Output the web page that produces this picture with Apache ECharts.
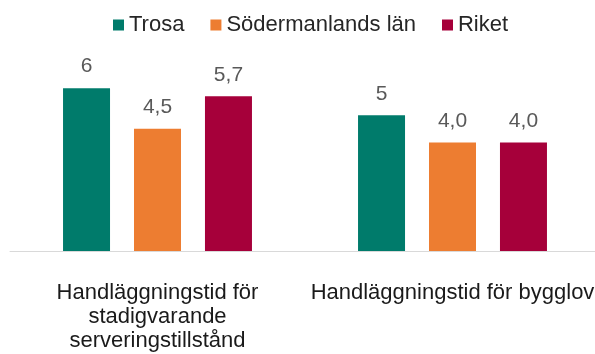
<!DOCTYPE html>
<html>
<head>
<meta charset="utf-8">
<script src="https://cdn.jsdelivr.net/npm/echarts@6/dist/echarts.min.js"></script>
<style>
  html, body { margin: 0; padding: 0; background: #ffffff; overflow: hidden; }
  #chart { width: 605px; height: 354px; }
</style>
</head>
<body>
<div id="chart"></div>
<script>
// Handläggningstid (veckor) per ärendetyp
const categories = [
  'Handläggningstid för\nstadigvarande\nserveringstillstånd',
  'Handläggningstid för bygglov'
];
const seriesNames = ['Trosa', 'Södermanlands län', 'Riket'];
const trosa = [6, 5];
const sodermanland = [4.5, 4.0];
const riket = [5.7, 4.0];
const valueLabels = [['6', '5'], ['4,5', '4,0'], ['5,7', '4,0']];
const colors = ['#007B6B', '#ED7D31', '#A6003A'];

const values = [trosa, sodermanland, riket];
const font = 'Liberation Sans, Arial, sans-serif';

const chart = echarts.init(document.getElementById('chart'));
chart.setOption({
  animation: false,
  color: colors,
  legend: {
    top: 9,
    left: 108,
    itemWidth: 11,
    itemHeight: 11,
    itemGap: 26,
    icon: 'rect',
    textStyle: { fontFamily: font, fontSize: 22, color: '#262626' },
    data: seriesNames
  },
  grid: { left: 10, width: 590, top: 61, bottom: 103, containLabel: false },
  xAxis: {
    type: 'category',
    data: categories,
    axisLine: { show: true, lineStyle: { color: '#D9D9D9', width: 1 } },
    axisTick: { show: false },
    axisLabel: {
      interval: 0,
      margin: 30,
      fontFamily: font,
      fontSize: 22,
      lineHeight: 24,
      color: '#1a1a1a',
      align: 'center'
    }
  },
  yAxis: {
    type: 'value',
    min: 0,
    max: 7,
    show: false,
    splitLine: { show: false }
  },
  series: seriesNames.map((name, i) => ({
    name,
    type: 'bar',
    barWidth: 47,
    barGap: '51%',
    data: values[i],
    label: {
      show: true,
      position: 'top',
      distance: 11,
      fontFamily: font,
      fontSize: 21,
      color: '#595959',
      formatter: p => valueLabels[i][p.dataIndex]
    }
  }))
});
</script>
</body>
</html>
